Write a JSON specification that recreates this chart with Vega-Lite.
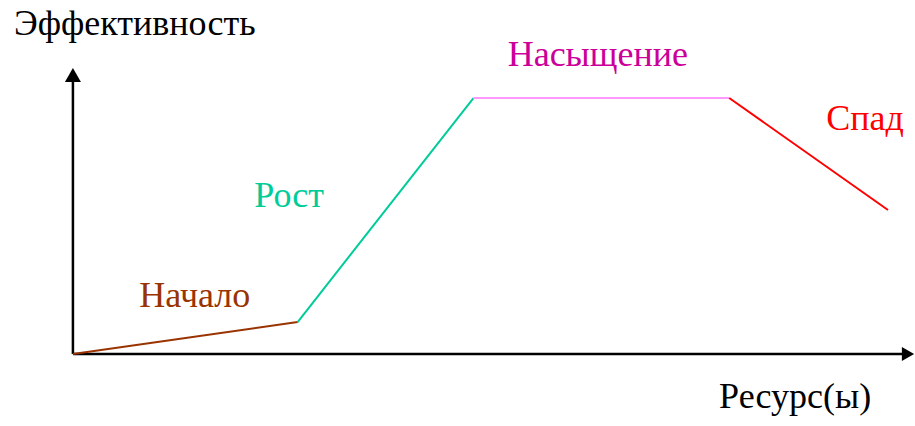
{
  "$schema": "https://vega.github.io/schema/vega-lite/v6.json",
  "width": 915,
  "height": 426,
  "autosize": {"type": "fit", "contains": "padding"},
  "padding": 0,
  "background": "white",
  "config": {"view": {"stroke": null}, "text": {"font": "Times New Roman"}},
  "datasets": {
    "segments": [
      {"phase": "Начало", "resource": 0, "effect": 0},
      {"phase": "Начало", "resource": 2.672, "effect": 1.119},
      {"phase": "Рост", "resource": 2.672, "effect": 1.119},
      {"phase": "Рост", "resource": 4.762, "effect": 8.951},
      {"phase": "Насыщение", "resource": 4.762, "effect": 8.951},
      {"phase": "Насыщение", "resource": 7.803, "effect": 8.951},
      {"phase": "Спад", "resource": 7.803, "effect": 8.951},
      {"phase": "Спад", "resource": 9.691, "effect": 5.035}
    ],
    "axes": [
      {"axis": "y", "resource": 0, "effect": 0},
      {"axis": "y", "resource": 0, "effect": 9.6},
      {"axis": "x", "resource": 0, "effect": 0},
      {"axis": "x", "resource": 9.9, "effect": 0}
    ],
    "arrowsUp": [{"resource": 0, "effect": 9.755}],
    "arrowsRight": [{"resource": 9.929, "effect": 0}],
    "phaseLabels": [
      {"phase": "Начало", "resource": 1.449, "effect": 1.643},
      {"phase": "Рост", "resource": 2.571, "effect": 5.14},
      {"phase": "Насыщение", "resource": 6.241, "effect": 10.07},
      {"phase": "Спад", "resource": 9.418, "effect": 7.832}
    ],
    "axisTitles": [
      {"title": "Эффективность", "resource": 0.736, "effect": 11.154},
      {"title": "Ресурс(ы)", "resource": 8.587, "effect": -1.888}
    ]
  },
  "layer": [
    {
      "data": {"name": "axes"},
      "mark": {"type": "line", "color": "black", "strokeWidth": 2.5},
      "encoding": {
        "x": {"field": "resource", "type": "quantitative", "scale": {"domain": [-0.867, 10], "nice": false, "zero": false}, "axis": null},
        "y": {"field": "effect", "type": "quantitative", "scale": {"domain": [-2.517, 12.378], "nice": false, "zero": false}, "axis": null},
        "detail": {"field": "axis"}
      }
    },
    {
      "data": {"name": "arrowsUp"},
      "mark": {"type": "point", "shape": "triangle-up", "filled": true, "color": "black", "size": 256, "opacity": 1},
      "encoding": {
        "x": {"field": "resource", "type": "quantitative"},
        "y": {"field": "effect", "type": "quantitative"}
      }
    },
    {
      "data": {"name": "arrowsRight"},
      "mark": {"type": "point", "shape": "triangle-right", "filled": true, "color": "black", "size": 200, "opacity": 1},
      "encoding": {
        "x": {"field": "resource", "type": "quantitative"},
        "y": {"field": "effect", "type": "quantitative"}
      }
    },
    {
      "data": {"name": "segments"},
      "mark": {"type": "line", "strokeWidth": 2},
      "encoding": {
        "x": {"field": "resource", "type": "quantitative"},
        "y": {"field": "effect", "type": "quantitative"},
        "color": {"field": "phase", "type": "nominal", "scale": {"domain": ["Начало", "Рост", "Насыщение", "Спад"], "range": ["#993300", "#00CC99", "#FF99FF", "#FF0000"]}, "legend": null}
      }
    },
    {
      "data": {"name": "phaseLabels"},
      "mark": {"type": "text", "font": "Times New Roman", "fontSize": 36, "align": "center", "baseline": "alphabetic"},
      "encoding": {
        "x": {"field": "resource", "type": "quantitative"},
        "y": {"field": "effect", "type": "quantitative"},
        "text": {"field": "phase"},
        "fill": {"field": "phase", "type": "nominal", "scale": {"domain": ["Начало", "Рост", "Насыщение", "Спад"], "range": ["#993300", "#00CC99", "#CC0099", "#FF0000"]}, "legend": null}
      }
    },
    {
      "data": {"name": "axisTitles"},
      "mark": {"type": "text", "font": "Times New Roman", "fontSize": 36, "align": "center", "baseline": "alphabetic", "color": "black"},
      "encoding": {
        "x": {"field": "resource", "type": "quantitative"},
        "y": {"field": "effect", "type": "quantitative"},
        "text": {"field": "title"}
      }
    }
  ],
  "resolve": {"scale": {"color": "independent", "fill": "independent"}}
}
